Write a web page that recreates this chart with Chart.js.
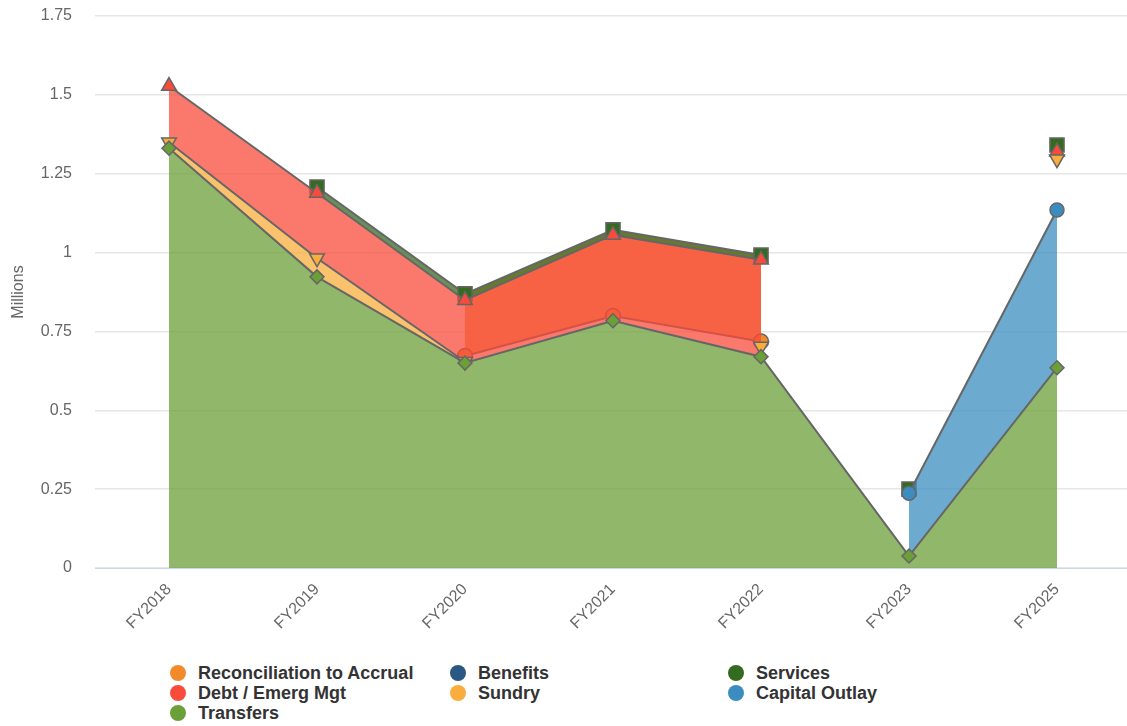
<!DOCTYPE html>
<html>
<head>
<meta charset="utf-8">
<script src="https://cdn.jsdelivr.net/npm/chart.js@4"></script>
<style>
  html, body { margin: 0; padding: 0; background: #fff; overflow: hidden; }
  #wrap { position: absolute; left: 0; top: 0; width: 1131px; height: 650px; }
  #legend {
    position: absolute; left: 170px; top: 663px;
    display: grid; grid-template-columns: 280px 278px 300px;
    font: bold 18px "Liberation Sans", Arial, sans-serif; color: #333;
  }
  .item { display: flex; align-items: center; height: 20px; white-space: nowrap; }
  .dot { width: 16px; height: 16px; border-radius: 50%; margin-right: 12px; flex: none; }
</style>
</head>
<body>
<div id="wrap"><canvas id="chart"></canvas></div>
<div id="legend"></div>
<script>
// values in millions
const categories = ['FY2018', 'FY2019', 'FY2020', 'FY2021', 'FY2022', 'FY2023', 'FY2025'];
const transfers      = [1.331, 0.923, 0.650, 0.784, 0.670, 0.038, 0.635];
const capitalOutlay  = [null, null, null, null, null, 0.199, 0.500];
const sundry         = [0.019, 0.059, 0.004, null, 0.032, null, 0.161];
const debtEmergMgt   = [0.178, 0.207, 0.195, 0.272, 0.275, null, 0.024];
const services       = [null, 0.019, 0.020, 0.016, 0.015, 0.013, 0.021];
const benefits       = [null, null, null, null, null, null, null];
const reconciliation = [null, null, -0.197, -0.273, -0.274, null, null];

const yTicks = [0, 0.25, 0.5, 0.75, 1, 1.25, 1.5, 1.75];
const yTickLabels = ['0', '0.25', '0.5', '0.75', '1', '1.25', '1.5', '1.75'];

const FONT = '"Liberation Sans", Arial, sans-serif';
const LINE = '#666666';

function alpha(hex, a) {
  const n = parseInt(hex.slice(1), 16);
  return 'rgba(' + (n >> 16) + ',' + ((n >> 8) & 255) + ',' + (n & 255) + ',' + a + ')';
}

// services point at FY2023 stands on its own, no line or area to it
function isolate(label) {
  const i = categories.indexOf(label);
  const off = c => c.p0DataIndex === i || c.p1DataIndex === i;
  return {
    borderColor: c => off(c) ? 'rgba(0,0,0,0)' : undefined,
    backgroundColor: c => off(c) ? 'rgba(0,0,0,0)' : undefined
  };
}

// stacking order: bottom first
const series = [
  { label: 'Transfers', data: transfers, color: '#6B9F38', style: 'rectRot', r: 7, fill: 'origin' },
  { label: 'Capital Outlay', data: capitalOutlay, color: '#3C8DBF', style: 'circle', r: 7 },
  { label: 'Sundry', data: sundry, color: '#F9AD3C', style: 'triangle', r: 8.5, rot: 180 },
  { label: 'Debt / Emerg Mgt', data: debtEmergMgt, color: '#F94B3B', style: 'triangle', r: 8.5 },
  { label: 'Services', data: services, color: '#356B20', style: 'rect', r: 10, segment: isolate('FY2023') },
  { label: 'Benefits', data: benefits, color: '#2B5784', style: 'circle', r: 7 },
  { label: 'Reconciliation to Accrual', data: reconciliation, color: '#F28A2B', style: 'circle', r: 7.5, fillTo: 'Services' }
];

const datasets = series.map(s => ({
  label: s.label,
  data: s.data,
  fill: s.fill || (s.fillTo ? series.findIndex(x => x.label === s.fillTo) : 'stack'),
  backgroundColor: alpha(s.color, 0.75),
  borderColor: LINE,
  borderWidth: 2,
  tension: 0,
  pointStyle: s.style,
  pointRadius: s.r,
  pointRotation: s.rot || 0,
  pointBackgroundColor: s.color,
  pointBorderColor: LINE,
  pointBorderWidth: 1.5,
  segment: s.segment
}));

new Chart(document.getElementById('chart'), {
  type: 'line',
  data: { labels: categories, datasets: datasets },
  options: {
    responsive: true,
    maintainAspectRatio: false,
    animation: false,
    layout: { autoPadding: false, padding: { top: 16, right: 0, left: 0, bottom: 0 } },
    plugins: { legend: { display: false }, tooltip: { enabled: false } },
    scales: {
      x: {
        offset: true,
        grid: { display: false, drawTicks: false },
        border: { color: '#ccd6eb', width: 1 },
        ticks: {
          autoSkip: false, minRotation: 45, maxRotation: 45, padding: 12,
          color: '#666', font: { family: FONT, size: 16 }
        },
        afterFit: s => { s.height = 82; }
      },
      y: {
        stacked: 'single',
        min: 0, max: 1.75,
        afterBuildTicks: s => { s.ticks = yTicks.map(v => ({ value: v })); },
        grid: { color: '#e6e6e6', lineWidth: 1.5, drawTicks: false },
        border: { display: false },
        ticks: {
          padding: 23, color: '#666', font: { family: FONT, size: 16 },
          callback: (v, i) => yTickLabels[i]
        },
        title: {
          display: true, text: 'Millions', color: '#666',
          font: { family: FONT, size: 16 }, padding: { top: 9, bottom: 0 }
        },
        afterFit: s => { s.width = 95; s.paddingTop = 0; s.paddingBottom = 0; }
      }
    }
  }
});

// legend in the original order
const legendOrder = ['Reconciliation to Accrual', 'Benefits', 'Services', 'Debt / Emerg Mgt', 'Sundry', 'Capital Outlay', 'Transfers'];
const legend = document.getElementById('legend');
legendOrder.forEach(name => {
  const s = series.find(x => x.label === name);
  const item = document.createElement('div');
  item.className = 'item';
  item.innerHTML = '<span class="dot" style="background:' + s.color + '"></span><span>' + name + '</span>';
  legend.appendChild(item);
});
</script>
</body>
</html>
